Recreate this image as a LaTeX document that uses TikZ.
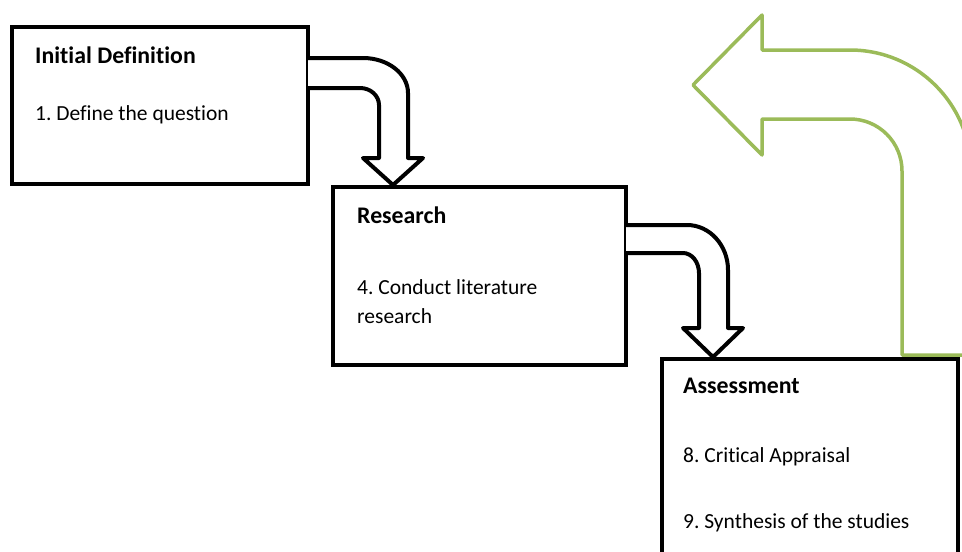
\documentclass[tikz,border=0pt]{standalone}
\usepackage{fontspec}
\setmainfont[Ligatures=NoCommon]{Carlito}
\frenchspacing
\begin{document}
\begin{tikzpicture}[x=1pt,y=-1pt,
  box/.style={draw=black,line width=4.3pt,fill=white,rectangle,inner sep=0pt},
  blockarrow/.style={draw=black,line width=4pt,line join=round,fill=white},
  greenarrow/.style={draw=olivegreen,line width=3.5pt,line join=round},
  title/.style={anchor=base west,inner sep=0pt,font=\fontsize{23.8}{29}\selectfont\bfseries},
  item/.style={anchor=base west,inner sep=0pt,font=\fontsize{21.5}{29}\selectfont\frenchspacing,align=left}]
\definecolor{olivegreen}{HTML}{9BBB59}
\useasboundingbox (0,0) rectangle (962,552);
\clip (0,0) rectangle (962,552);
% green return arrow
\draw[greenarrow] (980,355) -- (902,355) -- (902,171)
  .. controls (902,142.3) and (878.7,119) .. (850,119)
  -- (762,119) -- (762,155) -- (693,85) -- (762,15) -- (762,50) -- (850,50)
  .. controls (916.8,50) and (971,104.2) .. (971,171) -- (971,355);
% boxes
\node[box,minimum width=296pt,minimum height=157pt] (box1) at (160,105.5) {};
% arrow 1
\draw[blockarrow] (308,58) -- (363,58)
  .. controls (387.8,58) and (408,73.7) .. (408,93)
  -- (408,158) -- (423,158) -- (393,185) -- (363,158) -- (379,158) -- (379,105)
  .. controls (379,95.6) and (370.5,88) .. (360,88) -- (308,88);
\node[box,minimum width=293pt,minimum height=178pt] (box2) at (479.5,276) {};
% arrow 2
\draw[blockarrow] (626,225) -- (687,225)
  .. controls (709.6,225) and (728,245.2) .. (728,270)
  -- (728,328) -- (743,328) -- (713,357) -- (683,328) -- (699,328) -- (699,273)
  .. controls (699,262) and (691.8,253) .. (683,253) -- (626,253);
\node[box,minimum width=296pt,minimum height=241pt] (box3) at (810,479.5) {};
% texts
\node[title] (t1) at (35,63) {Initial Definition};
\node[item] (i1) at (35,120) {1. Define the question};
\node[title] (t2) at (357,223) {Research};
\node[item] (i2a) at (357,294) {4. Conduct literature};
\node[item] (i2b) at (357,323) {research};
\node[title] (t3) at (683,393) {Assessment};
\node[item] (i3a) at (683,462) {8. Critical Appraisal};
\node[item] (i3b) at (683,528) {9. Synthesis of the studies};
\end{tikzpicture}
\end{document}
